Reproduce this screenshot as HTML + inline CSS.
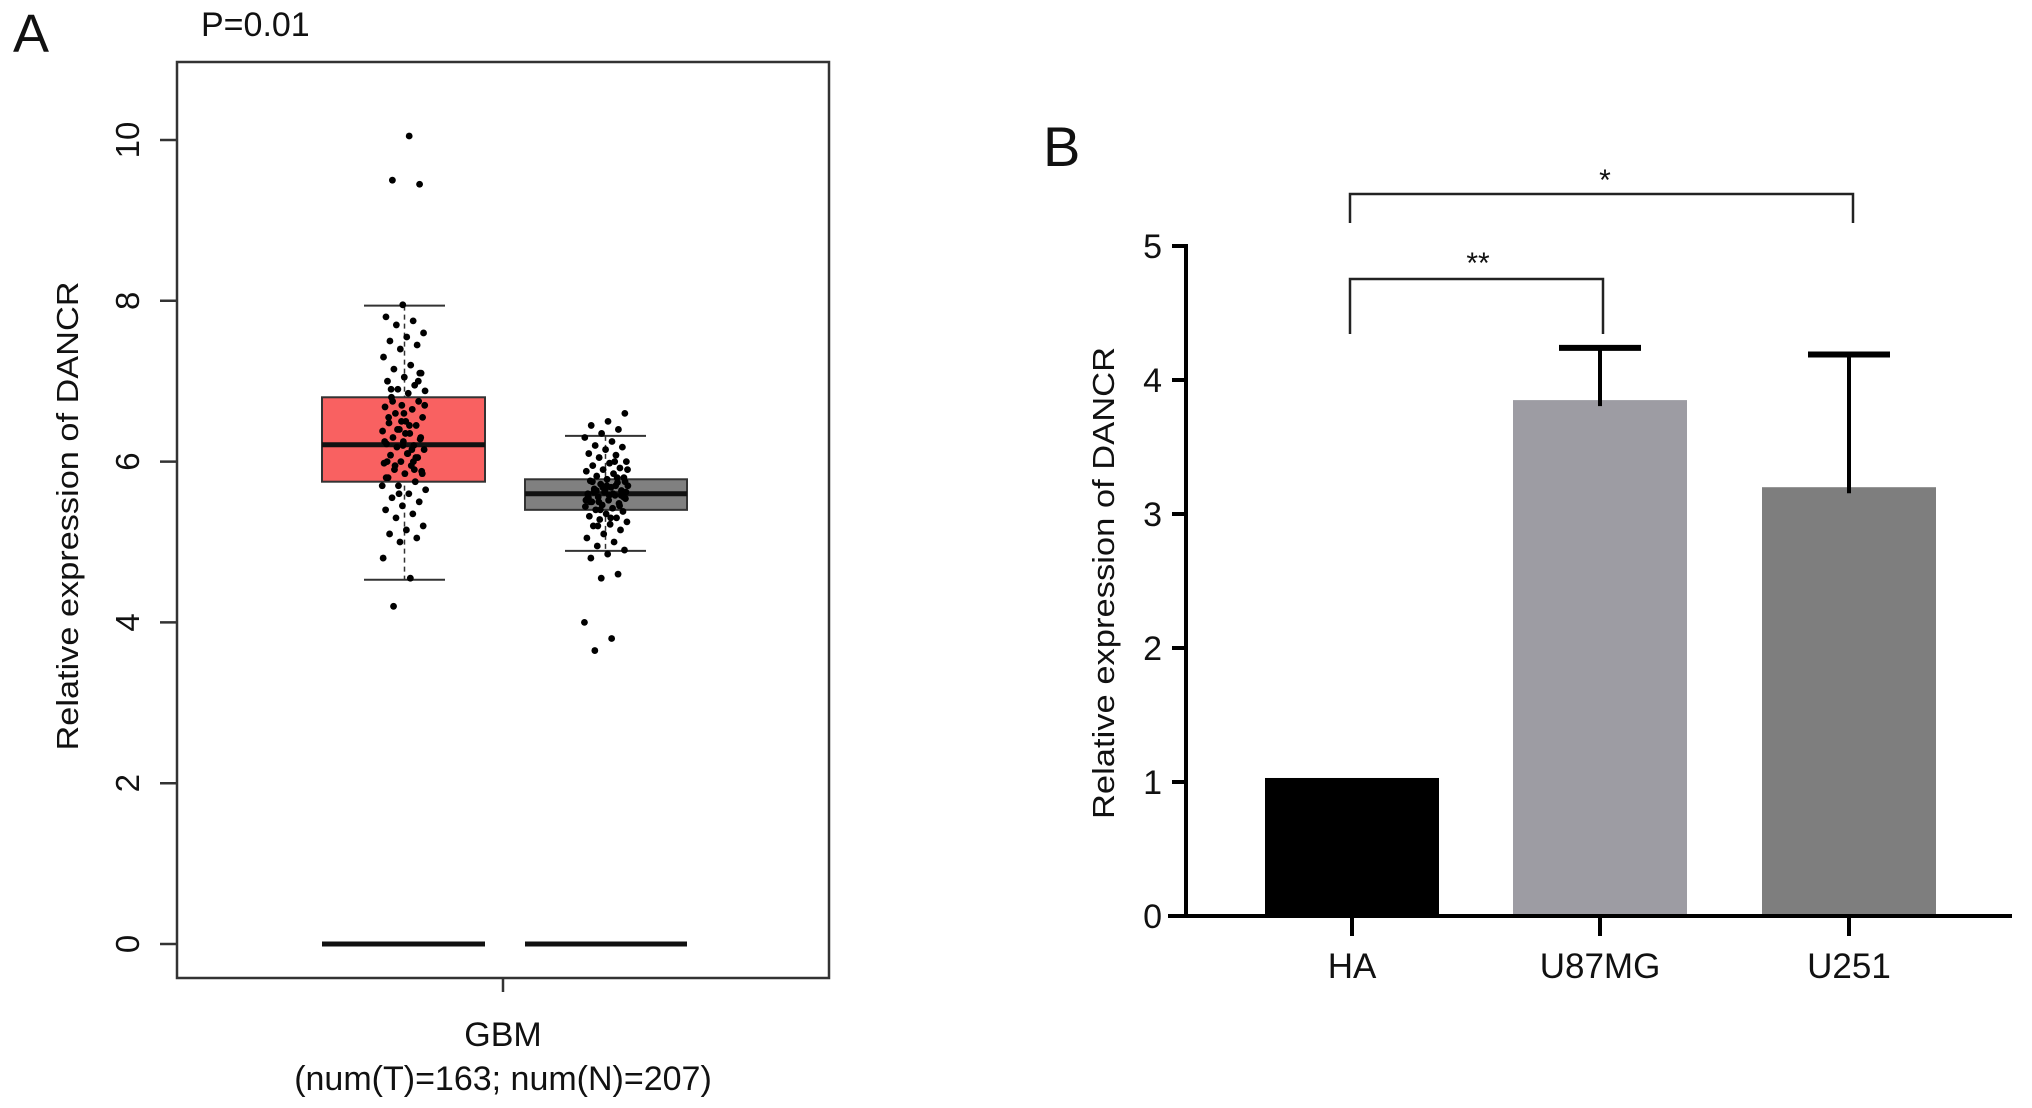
<!DOCTYPE html>
<html><head><meta charset="utf-8">
<style>
html,body{margin:0;padding:0;background:#fff;}
svg{display:block;}
text{font-family:"Liberation Sans",Arial,sans-serif;fill:#111;}
</style></head>
<body>
<svg id="fig" width="2032" height="1108" viewBox="0 0 2032 1108" xmlns="http://www.w3.org/2000/svg">
<g id="panelA"></g>
<g id="panelB"></g>
</svg>
<script>
// ---------- Panel A data ----------
const aTicks = [0, 2, 4, 6, 8, 10];
const aGroups = ["Tumor", "Normal"];
const aQ1 = [5.75, 5.40];
const aMedian = [6.21, 5.60];
const aQ3 = [6.80, 5.78];
const aWhiskLo = [4.53, 4.89];
const aWhiskHi = [7.94, 6.32];
const aTumorPts = [10.05, 9.5, 9.45, 7.95, 7.8, 7.75, 7.7, 7.6, 7.55, 7.5, 7.45, 7.4, 7.3, 7.2, 7.15, 7.1, 7.05, 7.0, 6.95, 6.9, 6.88, 6.85, 6.8, 6.75, 6.7, 6.68, 6.65, 6.6, 6.55, 6.5, 6.48, 6.45, 6.4, 6.38, 6.35, 6.3, 6.28, 6.25, 6.22, 6.2, 6.18, 6.15, 6.1, 6.08, 6.05, 6.0, 5.98, 5.95, 5.9, 5.88, 5.85, 5.8, 5.75, 5.7, 5.65, 5.6, 5.55, 5.5, 5.45, 5.4, 5.35, 5.3, 5.2, 5.15, 5.1, 5.05, 5.0, 4.8, 4.55, 4.2, 6.3, 6.6, 6.0, 5.9, 6.4, 6.7, 6.1, 6.9, 7.0, 6.5, 6.25, 6.15, 5.95, 5.85, 6.35, 6.55, 6.05, 5.6, 5.7, 6.45, 6.75, 7.1, 6.2, 5.8, 6.0];
const aNormalPts = [6.6, 6.5, 6.45, 6.4, 6.35, 6.3, 6.25, 6.2, 6.18, 6.15, 6.1, 6.08, 6.05, 6.0, 5.98, 5.95, 5.92, 5.9, 5.88, 5.85, 5.82, 5.8, 5.78, 5.76, 5.74, 5.72, 5.7, 5.68, 5.66, 5.64, 5.62, 5.6, 5.58, 5.56, 5.54, 5.52, 5.5, 5.48, 5.46, 5.44, 5.42, 5.4, 5.38, 5.35, 5.32, 5.3, 5.28, 5.25, 5.22, 5.2, 5.15, 5.1, 5.05, 5.0, 4.95, 4.9, 4.85, 4.8, 4.6, 4.55, 4.0, 3.8, 3.65, 5.6, 5.65, 5.55, 5.7, 5.5, 5.62, 5.58, 5.75, 5.45, 5.68, 5.52, 5.6, 5.64, 5.56, 5.7, 5.5, 5.8, 5.4, 5.9, 5.3, 5.62, 5.58, 5.66, 5.54, 6.0, 5.2, 5.75];

// ---------- Panel B data ----------
const bCategories = ["HA", "U87MG", "U251"];
const bValues = [1.03, 3.85, 3.2];
const bErrHigh = [1.03, 4.24, 4.19];
const bTicks = [0, 1, 2, 3, 4, 5];
const bColors = ["#000000", "#9d9ca3", "#7e7e7e"];

const NS = "http://www.w3.org/2000/svg";
function mk(parent, tag, attrs, text) {
  const el = document.createElementNS(NS, tag);
  for (const k in attrs) el.setAttribute(k, attrs[k]);
  if (text !== undefined) el.textContent = text;
  parent.appendChild(el);
  return el;
}

// ---------- Panel A ----------
(function () {
  const g = document.getElementById("panelA");
  const y0 = 944, unit = 80.4;
  const ya = v => y0 - v * unit;
  const boxX = [[322, 485], [525, 687]];
  const capX = [[364, 445], [565, 646]];
  const fills = ["#f96161", "#808080"];

  let t = mk(g, "text", {x: 13, y: 52, "font-size": 54});
  t.textContent = "A";
  
  

  t = mk(g, "text", {x: 201, y: 36, "font-size": 34}, "P=0.01");
  
  

  let r = mk(g, "rect", {x: 177, y: 62, width: 652, height: 916, fill: "none", stroke: "#333", "stroke-width": 2.5});
  
  

  aTicks.forEach(v => {
    const y = ya(v);
    const l = mk(g, "line", {x1: 160, x2: 177, y1: y, y2: y, stroke: "#333", "stroke-width": 2.5});
    
    
    const tx = mk(g, "text", {x: 0, y: 0, "font-size": 33, "text-anchor": "middle", transform: `translate(139,${y}) rotate(-90)`}, String(v));
    
    
  });

  t = mk(g, "text", {x: 0, y: 0, "font-size": 31, "text-anchor": "middle", textLength: 469, lengthAdjust: "spacingAndGlyphs", transform: "translate(78,516) rotate(-90)"}, "Relative expression of DANCR");
  
  

  aGroups.forEach((gname, i) => {
    const cx = (capX[i][0] + capX[i][1]) / 2;
    let w = mk(g, "line", {x1: cx, x2: cx, y1: ya(aWhiskHi[i]), y2: ya(aWhiskLo[i]), stroke: "#333", "stroke-width": 1.5, "stroke-dasharray": "5,4"});
    
    
    [aWhiskHi[i], aWhiskLo[i]].forEach(v => {
      const c = mk(g, "line", {x1: capX[i][0], x2: capX[i][1], y1: ya(v), y2: ya(v), stroke: "#333", "stroke-width": 2});
      
      
    });
    const b = mk(g, "rect", {x: boxX[i][0], y: ya(aQ3[i]), width: boxX[i][1] - boxX[i][0], height: ya(aQ1[i]) - ya(aQ3[i]), fill: fills[i], stroke: "#333", "stroke-width": 2});
    
    
    const m = mk(g, "line", {x1: boxX[i][0], x2: boxX[i][1], y1: ya(aMedian[i]), y2: ya(aMedian[i]), stroke: "#111", "stroke-width": 5});
    
    
    const z = mk(g, "line", {x1: boxX[i][0], x2: boxX[i][1], y1: ya(0), y2: ya(0), stroke: "#111", "stroke-width": 5});
    
    
  });

  const centers = [404, 606];
  [aTumorPts, aNormalPts].forEach((pts, gi) => {
    pts.forEach((v, k) => {
      const f = ((k + 1) * 0.6180339 + gi * 0.31) % 1;
      const jit = (f - 0.5) * 44;
      const c = mk(g, "circle", {cx: centers[gi] + jit, cy: ya(v), r: 3.4, fill: "#000"});
      
      
    });
  });

  let xt = mk(g, "line", {x1: 503, x2: 503, y1: 978, y2: 992, stroke: "#333", "stroke-width": 2.5});
  
  
  t = mk(g, "text", {x: 503, y: 1046, "font-size": 34, "text-anchor": "middle"}, "GBM");
  
  
  t = mk(g, "text", {x: 503, y: 1090, "font-size": 34, "text-anchor": "middle"}, "(num(T)=163; num(N)=207)");
  
  
})();

// ---------- Panel B ----------
(function () {
  const g = document.getElementById("panelB");
  const y0 = 916, unit = 134;
  const yb = v => y0 - v * unit;
  const centers = [1352, 1600, 1849];
  const barW = 174;

  let t = mk(g, "text", {x: 1043, y: 166, "font-size": 56}, "B");
  
  

  bCategories.forEach((c, i) => {
    const b = mk(g, "rect", {x: centers[i] - barW / 2, y: yb(bValues[i]), width: barW, height: yb(0) - yb(bValues[i]), fill: bColors[i]});
    
    
    if (bErrHigh[i] > bValues[i]) {
      const e = mk(g, "line", {x1: centers[i], x2: centers[i], y1: yb(bValues[i]) + 6, y2: yb(bErrHigh[i]), stroke: "#000", "stroke-width": 4});
      
      
      const cap = mk(g, "line", {x1: centers[i] - 41, x2: centers[i] + 41, y1: yb(bErrHigh[i]), y2: yb(bErrHigh[i]), stroke: "#000", "stroke-width": 6});
      
      
    }
    const tk = mk(g, "line", {x1: centers[i], x2: centers[i], y1: y0, y2: y0 + 20, stroke: "#000", "stroke-width": 4});
    
    
    const lb = mk(g, "text", {x: centers[i], y: 978, "font-size": 35, "text-anchor": "middle"}, c);
    
    
  });

  let ax = mk(g, "line", {x1: 1186, x2: 1186, y1: yb(5) - 2, y2: y0 + 2, stroke: "#000", "stroke-width": 4});
  
  
  ax = mk(g, "line", {x1: 1168, x2: 2012, y1: y0, y2: y0, stroke: "#000", "stroke-width": 4});
  
  

  bTicks.forEach(v => {
    const y = yb(v);
    const l = mk(g, "line", {x1: 1172, x2: 1186, y1: y, y2: y, stroke: "#000", "stroke-width": 4});
    
    
    const tx = mk(g, "text", {x: 1162, y: y + 12, "font-size": 34, "text-anchor": "end"}, String(v));
    
    
  });

  t = mk(g, "text", {x: 0, y: 0, "font-size": 31, "text-anchor": "middle", textLength: 472, lengthAdjust: "spacingAndGlyphs", transform: "translate(1114,583) rotate(-90)"}, "Relative expression of DANCR");
  
  

  let p = mk(g, "path", {d: "M1350,223 V194 H1853 V223", fill: "none", stroke: "#222", "stroke-width": 2.5});
  
  
  t = mk(g, "text", {x: 1605, y: 190, "font-size": 30, "text-anchor": "middle"}, "*");
  
  
  p = mk(g, "path", {d: "M1350,334 V279 H1603 V334", fill: "none", stroke: "#222", "stroke-width": 2.5});
  
  
  t = mk(g, "text", {x: 1478, y: 273, "font-size": 30, "text-anchor": "middle"}, "**");
  
  
})();
</script>
</body></html>
